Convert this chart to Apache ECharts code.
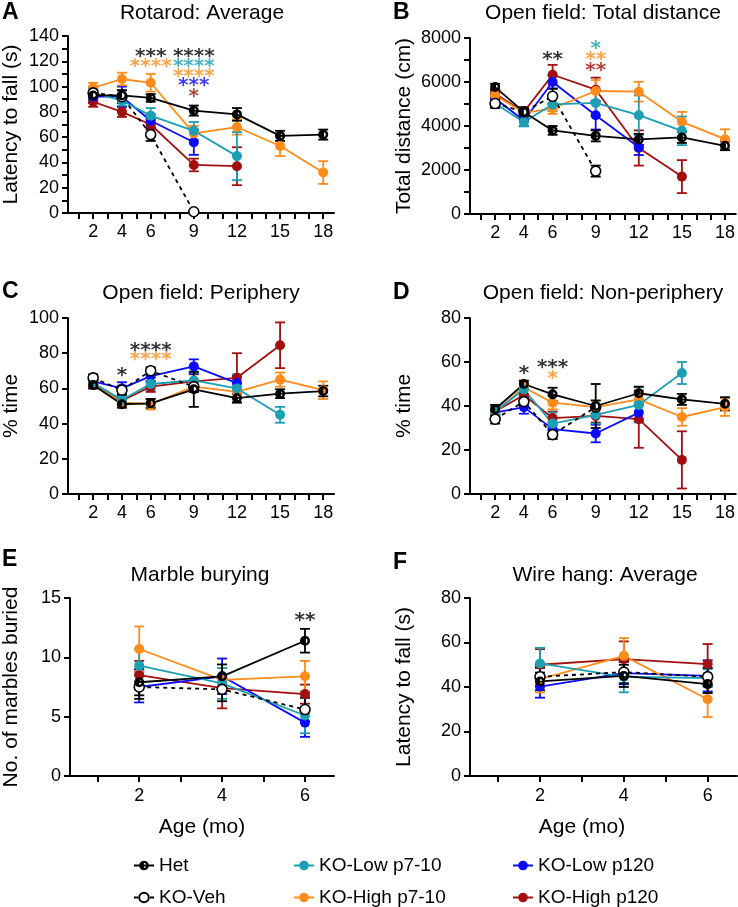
<!DOCTYPE html>
<html>
<head>
<meta charset="utf-8">
<title>Behaviour panels</title>
<script src="https://cdn.jsdelivr.net/npm/echarts@6/dist/echarts.min.js"></script>
<style>
  html, body { margin: 0; padding: 0; background: #fff; }
  #main { width: 738px; height: 907px; }
</style>
</head>
<body>
<div id="main"></div>
<script>
// groups, in the order used by every data row below
var groups = ['Het', 'KO-Veh', 'KO-Low p7-10', 'KO-High p7-10', 'KO-Low p120', 'KO-High p120'];

// x values and ticks
var months = [2, 4, 6, 9, 12, 15, 18];
var monthTicks = [1, 2, 3, 4, 5, 6, 7, 8, 9, 10, 11, 12, 13, 14, 15, 16, 17, 18];
var ages = [2, 4, 6];
var ageTicks = [1, 2, 3, 4, 5, 6];

// A: rotarod (s), mean and SEM
var rotarodMean = [
  [93, 93, 91, 81, 78, 61, 62],
  [95, 92, 62, 1],
  [95, 89, 77, 65, 45],
  [99, 106, 103, 63, 68, 53, 32],
  [92, 92, 73, 56],
  [88, 80, 70, 38, 37]
];
var rotarodErr = [
  [4, 4, 3, 4, 5, 4, 4],
  [4, 5, 5, 1],
  [5, 4, 6, 7, 19],
  [4, 5, 7, 6, 6, 8, 9],
  [5, 8, 5, 10],
  [4, 4, 4, 5, 15]
];

// B: total distance (cm)
var distanceMean = [
  [5770, 4640, 3800, 3550, 3390, 3480, 3100],
  [5020, 4650, 5350, 1950],
  [5020, 4180, 4980, 5050, 4490, 3780],
  [5400, 4600, 4800, 5590, 5560, 4190, 3400],
  [5250, 4250, 6000, 4490, 3030],
  [5470, 4640, 6330, 5650, 3000, 1700]
];
var distanceErr = [
  [150, 150, 200, 250, 250, 250, 200],
  [200, 200, 350, 250],
  [150, 200, 300, 600, 900, 650],
  [200, 200, 250, 500, 450, 450, 450],
  [200, 250, 300, 650, 350],
  [200, 200, 450, 550, 800, 750]
];

// C: periphery (% time)
var peripheryMean = [
  [62, 51, 51.5, 59.5, 54.5, 57, 58.5],
  [66, 59, 70, 61],
  [63, 53.5, 62.5, 64.5, 60, 45],
  [63, 52, 51, 61, 58, 65, 59],
  [64, 60, 67, 72.5, 63],
  [62, 53, 61, 64, 66, 84.5]
];
var peripheryErr = [
  [2, 2, 2.5, 10, 2.5, 2.5, 3],
  [2, 2.5, 2, 3],
  [2, 3, 3.5, 4.5, 8, 4.5],
  [2, 2.5, 3, 3, 3, 4, 5],
  [2, 3.5, 3, 4, 4],
  [2, 3, 3, 4, 14, 13]
];

// D: non-periphery (% time)
var nonPeriMean = [
  [38.5, 50, 45.3, 40, 45.8, 43, 41],
  [34, 42, 27, 39.5],
  [37.5, 47.5, 32, 36, 40.5, 55],
  [37, 48.5, 41.5, 39.5, 43, 35, 39.5],
  [37, 39.5, 29.5, 27.5, 37],
  [37.5, 45, 34.5, 35.5, 34, 15.5]
];
var nonPeriErr = [
  [2, 1.5, 3, 10, 3, 2.5, 3],
  [2, 2, 2, 3],
  [2, 3, 5, 4, 8, 5],
  [2, 3, 3, 3, 3, 4, 4],
  [2, 3, 3, 4, 4],
  [2, 3, 3, 3, 13, 13]
];

// E: marbles buried
var marbleMean = [
  [7.9, 8.4, 11.4],
  [7.5, 7.3, 5.6],
  [9.3, 7.8, 5.1],
  [10.7, 8.1, 8.4],
  [7.5, 8.4, 4.5],
  [8.5, 7.4, 6.9]
];
var marbleErr = [
  [1.1, 1.0, 1.0],
  [1.0, 1.0, 1.0],
  [1.4, 1.3, 1.5],
  [1.9, 1.0, 1.3],
  [1.3, 1.5, 1.2],
  [1.2, 1.7, 0.8]
];

// F: wire hang (s)
var wireMean = [
  [42.5, 45, 41.3],
  [44.6, 46.7, 44.6],
  [50.6, 44.6, 44],
  [43.5, 54, 34.5],
  [40.2, 46.2, 45],
  [50, 52.5, 50.3]
];
var wireErr = [
  [4, 5, 4],
  [4, 5, 4],
  [7, 7, 4],
  [6, 8, 8],
  [5, 5, 7],
  [7, 8, 9]
];

// significance marks: [x, y, text, group index for colour]
var starsA = [[6, 127, '***', 0], [9, 127, '****', 0], [6, 118.5, '****', 3], [9, 118.5, '****', 2],
              [9, 111, '****', 3], [9, 103.5, '***', 4], [9, 95, '*', 5]];
var starsB = [[6, 7200, '**', 0], [9, 7700, '*', 2], [9, 7200, '**', 3], [9, 6670, '**', 5]];
var starsC = [[4, 69.5, '*', 0], [6, 83.7, '****', 0], [6, 78.4, '****', 3]];
var starsD = [[4, 56.4, '*', 0], [6, 59.4, '***', 0], [6, 54, '*', 3]];
var starsE = [[6, 13.4, '**', 0]];
var starsF = [];

var colors = ['#000000', '#000000', '#1a9fb3', '#ff8c1a', '#0a0aff', '#a30f0f'];
// ring with the left half filled
var hetSymbol = 'path://M10 0A10 10 0 1 1 10 20A10 10 0 1 1 10 0ZM10 5A5 5 0 1 0 10 15A5 5 0 1 0 10 5ZM10 5A5 5 0 0 0 10 15Z';
var font = 'Liberation Sans';

var panels = [
  {mean: rotarodMean, err: rotarodErr, xs: months, stars: starsA, title: 'Rotarod: Average', yName: 'Latency to fall (s)',
   grid: {left: 68, top: 36, width: 266, height: 177}, ymax: 140, step: 20, minor: true, gap: 46, titlePos: [202, 13], letter: ['A', 2, 13]},
  {mean: distanceMean, err: distanceErr, xs: months, stars: starsB, title: 'Open field: Total distance', yName: 'Total distance (cm)',
   grid: {left: 470, top: 38, width: 267, height: 176}, ymax: 8000, step: 2000, minor: true, gap: 55, titlePos: [603, 13], letter: ['B', 393, 13]},
  {mean: peripheryMean, err: peripheryErr, xs: months, stars: starsC, title: 'Open field: Periphery', yName: '% time',
   grid: {left: 68, top: 318, width: 266, height: 176}, ymax: 100, step: 20, minor: false, gap: 46, titlePos: [201, 293], letter: ['C', 2, 292]},
  {mean: nonPeriMean, err: nonPeriErr, xs: months, stars: starsD, title: 'Open field: Non-periphery', yName: '% time',
   grid: {left: 470, top: 318, width: 267, height: 176}, ymax: 80, step: 20, minor: false, gap: 55, titlePos: [603, 293], letter: ['D', 393, 293]},
  {mean: marbleMean, err: marbleErr, xs: ages, stars: starsE, title: 'Marble burying', yName: 'No. of marbles buried',
   grid: {left: 68, top: 598, width: 266, height: 178}, ymax: 15, step: 5, minor: false, gap: 48, titlePos: [200, 575], letter: ['E', 2, 560]},
  {mean: wireMean, err: wireErr, xs: ages, stars: starsF, title: 'Wire hang: Average', yName: 'Latency to fall (s)',
   grid: {left: 470, top: 598, width: 267, height: 178}, ymax: 80, step: 20, minor: false, gap: 55, titlePos: [605, 575], letter: ['F', 393, 563]}
];

function errorBars(color) {
  return function (params, api) {
    var x = api.value(0), y = api.value(1), e = api.value(2);
    var hi = api.coord([x, y + e]);
    var lo = api.coord([x, y - e]);
    var w = 5;
    var st = {stroke: color, lineWidth: 1.8};
    return {
      type: 'group',
      children: [
        {type: 'line', shape: {x1: hi[0], y1: hi[1], x2: lo[0], y2: lo[1]}, style: st},
        {type: 'line', shape: {x1: hi[0] - w, y1: hi[1], x2: hi[0] + w, y2: hi[1]}, style: st},
        {type: 'line', shape: {x1: lo[0] - w, y1: lo[1], x2: lo[0] + w, y2: lo[1]}, style: st}
      ]
    };
  };
}

var grids = [], xAxes = [], yAxes = [], series = [], graphics = [];
var drawOrder = [5, 4, 3, 2, 1, 0];

panels.forEach(function (p, pi) {
  grids.push(p.grid);
  var isAge = p.xs === ages;
  xAxes.push({
    type: 'value', gridIndex: pi,
    min: isAge ? 0.33 : 0.25, max: isAge ? 6.7 : 18.75,
    splitLine: {show: false},
    axisLine: {lineStyle: {color: '#000', width: 2}},
    axisTick: {show: true, length: 6, lineStyle: {color: '#000', width: 2}, customValues: isAge ? ageTicks : monthTicks},
    axisLabel: {color: '#000', fontSize: 18, fontFamily: font, margin: isAge ? 11 : 10, customValues: p.xs}
  });
  yAxes.push({
    type: 'value', gridIndex: pi, min: 0, max: p.ymax, interval: p.step,
    splitLine: {show: false},
    axisLine: {show: true, lineStyle: {color: '#000', width: 2}},
    axisTick: {show: true, length: 6, lineStyle: {color: '#000', width: 2}},
    minorTick: {show: p.minor, splitNumber: 2, length: 6, lineStyle: {color: '#000', width: 2}},
    axisLabel: {color: '#000', fontSize: 18, fontFamily: font, margin: 9,
                formatter: function (v) { return String(v); }},
    name: p.yName, nameLocation: 'middle', nameGap: p.gap,
    nameTextStyle: {color: '#000', fontSize: 21, fontFamily: font}
  });

  drawOrder.forEach(function (g) {
    var row = p.mean[g];
    var pts = row.map(function (v, i) { return [p.xs[i], v]; });
    var errPts = row.map(function (v, i) { return [p.xs[i], v, p.err[g][i]]; });
    series.push({
      type: 'custom', xAxisIndex: pi, yAxisIndex: pi, silent: true, z: 2,
      renderItem: errorBars(colors[g]), encode: {x: 0, y: 1}, data: errPts
    });
    var item;
    if (g === 1) {
      item = {color: '#fff', borderColor: '#000', borderWidth: 1.6};
    } else {
      item = {color: colors[g], borderWidth: 0};
    }
    series.push({
      type: 'line', name: groups[g], xAxisIndex: pi, yAxisIndex: pi, z: 3,
      data: pts,
      symbol: g === 0 ? hetSymbol : 'circle',
      symbolSize: 10,
      lineStyle: {color: colors[g], width: 1.8, type: g === 1 ? [4, 4] : 'solid'},
      itemStyle: item,
      emphasis: {disabled: true}
    });
  });

  if (p.stars.length) {
    series.push({
      type: 'scatter', xAxisIndex: pi, yAxisIndex: pi, silent: true, z: 5,
      symbolSize: 1, itemStyle: {color: 'transparent'},
      label: {show: true, position: 'inside', fontFamily: 'DejaVu Sans', fontWeight: 'bold', fontSize: 20, offset: [0, 4]},
      data: p.stars.map(function (s) {
        return {value: [s[0], s[1]], label: {formatter: s[2], color: colors[s[3]]}};
      })
    });
  }

  graphics.push({
    type: 'text', x: p.titlePos[0], y: p.titlePos[1],
    style: {text: p.title, fontSize: 21, fontFamily: font, fill: '#000', textAlign: 'center', textVerticalAlign: 'middle'}
  });
  graphics.push({
    type: 'text', x: p.letter[1], y: p.letter[2],
    style: {text: p.letter[0], fontSize: 23, fontWeight: 'bold', fontFamily: font, fill: '#000', textAlign: 'left', textVerticalAlign: 'middle'}
  });
});

graphics.push({type: 'text', x: 202, y: 827,
  style: {text: 'Age (mo)', fontSize: 21, fontFamily: font, fill: '#000', textAlign: 'center', textVerticalAlign: 'middle'}});
graphics.push({type: 'text', x: 582, y: 827,
  style: {text: 'Age (mo)', fontSize: 21, fontFamily: font, fill: '#000', textAlign: 'center', textVerticalAlign: 'middle'}});

function legendCol(left, names) {
  return {
    orient: 'vertical', left: left, top: 851, height: 60, itemGap: 13, itemWidth: 20, itemHeight: 12,
    textStyle: {fontSize: 19, fontFamily: font, color: '#000'},
    selectedMode: false, data: names
  };
}

var myChart = echarts.init(document.getElementById('main'));
myChart.setOption({
  animation: false,
  backgroundColor: '#fff',
  textStyle: {fontFamily: font},
  grid: grids,
  xAxis: xAxes,
  yAxis: yAxes,
  legend: [
    legendCol(128, [groups[0], groups[1]]),
    legendCol(288, [groups[2], groups[3]]),
    legendCol(507, [groups[4], groups[5]])
  ],
  graphic: graphics,
  series: series
});
</script>
</body>
</html>
